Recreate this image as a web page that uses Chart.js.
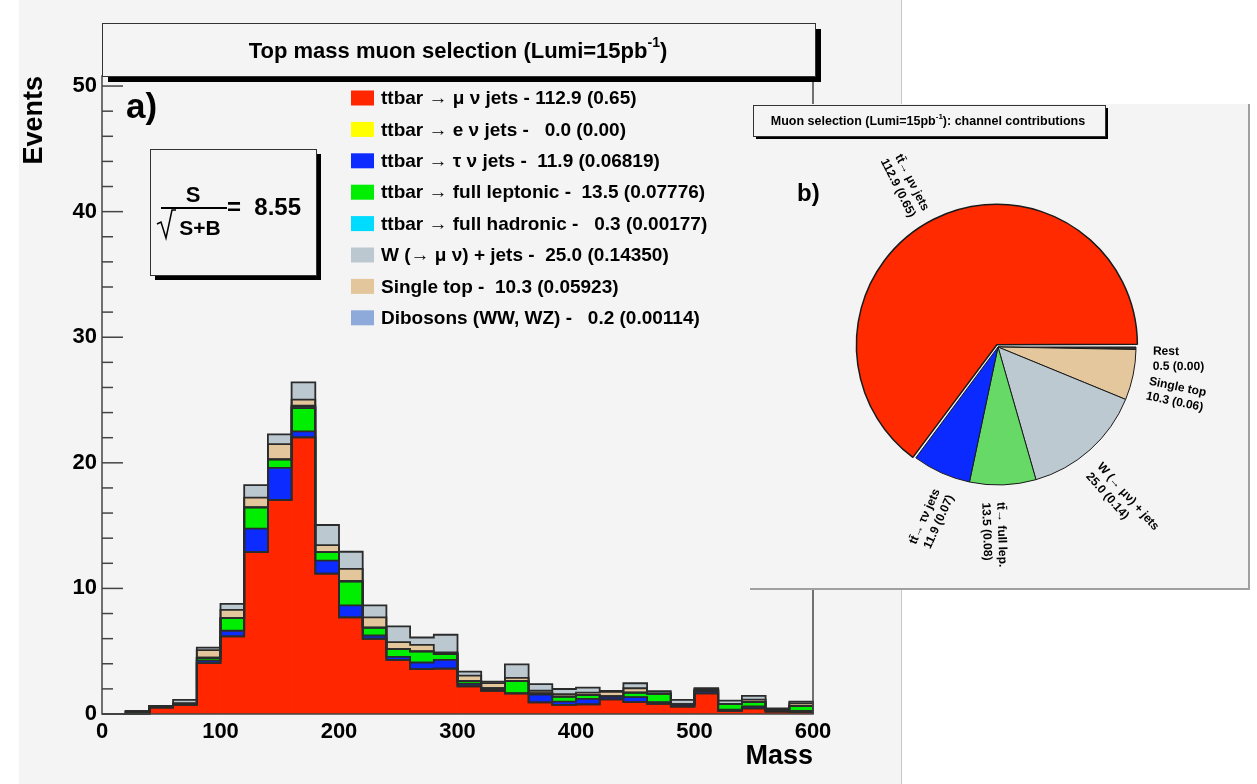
<!DOCTYPE html>
<html>
<head>
<meta charset="utf-8">
<script src="https://cdn.jsdelivr.net/npm/chart.js@4.4.0/dist/chart.umd.min.js"></script>
<style>
  html, body { margin: 0; padding: 0; background: #fff; }
  body { width: 1257px; height: 784px; position: relative; overflow: hidden; }
  #panel { position: absolute; left: 19px; top: 0; width: 882px; height: 784px; background: #f4f4f4; border-right: 1px solid #c8c8c8; }
  #hist { position: absolute; left: 0; top: 0; }
  #pieBox { position: absolute; left: 750px; top: 104px; width: 498px; height: 484px; background: #f4f4f4;
            border-right: 2px solid #a0a0a0; border-bottom: 2px solid #a0a0a0; }
  #pie { position: absolute; left: 0; top: 0; }
</style>
</head>
<body>
<div id="panel"></div>
<canvas id="hist" width="901" height="784"></canvas>
<div id="pieBox"><canvas id="pie" width="498" height="484"></canvas></div>
<script>
// bin centres of the mass histogram (20 wide, 0..600)
const massBins = [10, 30, 50, 70, 90, 110, 130, 150, 170, 190, 210, 230, 250, 270, 290,
                  310, 330, 350, 370, 390, 410, 430, 450, 470, 490, 510, 530, 550, 570, 590];

// stacked contributions, bottom to top
const muJets   = [0, 0, 0.5, 0.72, 4.05, 6.18, 12.89, 17.04, 22.02, 11.18, 7.69, 5.99, 4.31, 3.57, 3.62,
                  2.21, 1.84, 1.65, 0.93, 0.72, 0.77, 1.17, 0.95, 0.8, 0.58, 1.65, 0.25, 0.45, 0.2, 0.15];
const eJets    = [0, 0, 0, 0, 0, 0, 0, 0, 0, 0, 0, 0, 0, 0, 0, 0, 0, 0, 0, 0, 0, 0, 0, 0, 0, 0, 0, 0, 0, 0];
const tauJets  = [0, 0, 0.15, 0.1, 0.2, 0.45, 1.87, 2.56, 0.48, 1.04, 0.96, 0.26, 0.24, 0.53, 0.69,
                  0.2, 0.12, 0, 0.61, 0.27, 0.43, 0.24, 0.4, 0.15, 0.19, 0.19, 0.1, 0.15, 0.1, 0.1];
const fullLep  = [0, 0.2, 0, 0, 0.19, 1.0, 1.7, 0.67, 1.86, 0.67, 1.92, 0.62, 0.61, 0.88, 0.46,
                  0.2, 0, 0.96, 0.1, 0.4, 0.3, 0, 0.35, 0.67, 0, 0, 0.45, 0.35, 0, 0.4];
const fullHad  = [0, 0, 0, 0, 0.05, 0, 0, 0, 0.1, 0, 0, 0, 0, 0, 0,
                  0, 0.1, 0, 0, 0, 0, 0, 0, 0, 0, 0.05, 0, 0, 0, 0];
const dibosons = [0, 0, 0, 0, 0, 0, 0, 0, 0.09, 0, 0, 0, 0, 0, 0.05,
                  0, 0, 0, 0, 0, 0, 0, 0, 0, 0, 0.06, 0, 0, 0, 0];
const singleTop = [0, 0, 0, 0, 0.59, 0.66, 0.77, 1.22, 0.48, 0.56, 0.99, 0.82, 0.56, 0.53, 0.08,
                   0.45, 0.4, 0.27, 0.21, 0.2, 0.2, 0.35, 0.35, 0, 0, 0, 0, 0.2, 0, 0.2];
const wJets    = [0, 0, 0, 0.3, 0.2, 0.48, 1.0, 0.77, 1.38, 1.6, 1.36, 0.96, 1.25, 0.58, 1.41,
                  0.32, 0.12, 1.07, 0.53, 0.4, 0.4, 0.08, 0.4, 0.2, 0.35, 0.1, 0.27, 0.3, 0.15, 0.13];

const stackValues = [muJets, eJets, tauJets, fullLep, fullHad, dibosons, singleTop, wJets];
const stackColors = ['#ff2600', '#ffff00', '#0c2cff', '#00ee00', '#00dcff', '#8eaadb', '#e3c69b', '#bcc8d0'];
const stackLabels = ['ttbar \u2192 \u03bc \u03bd jets - 112.9 (0.65)',
                     'ttbar \u2192 e \u03bd jets -   0.0 (0.00)',
                     'ttbar \u2192 \u03c4 \u03bd jets -  11.9 (0.06819)',
                     'ttbar \u2192 full leptonic -  13.5 (0.07776)',
                     'ttbar \u2192 full hadronic -   0.3 (0.00177)',
                     'Dibosons (WW, WZ) -   0.2 (0.00114)',
                     'Single top -  10.3 (0.05923)',
                     'W (\u2192 \u03bc \u03bd) + jets -  25.0 (0.14350)'];
const legendOrder = [0, 1, 2, 3, 4, 7, 6, 5];

const yTicks = [0, 10, 20, 30, 40, 50];
const xTicks = [0, 100, 200, 300, 400, 500, 600];

// pie: channel contributions
const pieLabels = [['Rest', '0.5 (0.00)'], ['Single top', '10.3 (0.06)'], ['W (\u2192 \u03bc\u03bd) + jets', '25.0 (0.14)'],
                   ['tt\u0304\u2192 full lep.', '13.5 (0.08)'], ['tt\u0304\u2192 \u03c4\u03bd jets', '11.9 (0.07)'],
                   ['tt\u0304\u2192 \u03bc\u03bd jets', '112.9 (0.65)']];
const pieValues = [0.5, 10.3, 25.0, 13.5, 11.9, 112.9];
const pieColors = ['#333333', '#e4c79c', '#bdc9d1', '#66d966', '#0a2aff', '#ff2a00'];

const FONT = '"Liberation Sans", Arial, Helvetica, sans-serif';
Chart.defaults.font.family = FONT;
Chart.defaults.color = '#000';

function drawSupText(ctx, parts, cx, cy, size) {
  const sup = Math.round(size * 0.62);
  let w = 0;
  parts.forEach(p => {
    ctx.font = 'bold ' + (p.sup ? sup : size) + 'px ' + FONT;
    w += ctx.measureText(p.t).width;
  });
  let x = cx - w / 2;
  ctx.textAlign = 'left';
  ctx.textBaseline = 'middle';
  parts.forEach(p => {
    ctx.font = 'bold ' + (p.sup ? sup : size) + 'px ' + FONT;
    ctx.fillText(p.t, x, p.sup ? cy - size * 0.38 : cy);
    x += ctx.measureText(p.t).width;
  });
}

function shadowBox(ctx, x, y, w, h, sh) {
  ctx.fillStyle = '#000';
  ctx.fillRect(x + sh, y + sh, w, h);
  ctx.fillStyle = '#f4f4f4';
  ctx.fillRect(x, y, w, h);
  ctx.strokeStyle = '#333';
  ctx.lineWidth = 1;
  ctx.strokeRect(x + 0.5, y + 0.5, w, h);
}

const histDecor = {
  id: 'histDecor',
  afterDatasetsDraw(chart) {
    const ctx = chart.ctx, a = chart.chartArea, yS = chart.scales.y;
    ctx.save();
    // step outline of every stacked layer
    ctx.strokeStyle = '#2b2b2b';
    ctx.lineWidth = 1.8;
    chart.data.datasets.forEach((ds, d) => {
      const bars = chart.getDatasetMeta(d).data;
      ctx.beginPath();
      bars.forEach((b, i) => {
        const p = b.getProps(['x', 'y', 'base', 'width'], true);
        const l = p.x - p.width / 2, r = p.x + p.width / 2;
        if (i === 0) ctx.moveTo(l, p.base);
        ctx.lineTo(l, p.y);
        ctx.lineTo(r, p.y);
        if (i === bars.length - 1) ctx.lineTo(r, p.base);
      });
      ctx.stroke();
    });
    // frame + inward ticks
    ctx.strokeStyle = '#444';
    ctx.lineWidth = 1.5;
    ctx.strokeRect(a.left, a.top, a.right - a.left, a.bottom - a.top);
    for (let v = 0; v <= 50; v += 2) {
      const y = yS.getPixelForValue(v);
      const len = v % 10 === 0 ? 21 : 11;
      ctx.beginPath();
      ctx.moveTo(a.left, y);
      ctx.lineTo(a.left + len, y);
      ctx.stroke();
    }
    ctx.restore();
  },
  afterDraw(chart) {
    const ctx = chart.ctx;
    ctx.save();
    // title box
    shadowBox(ctx, 102, 23, 713, 53, 6);
    ctx.fillStyle = '#000';
    drawSupText(ctx, [{t: 'Top mass muon selection (Lumi=15pb'}, {t: '-1', sup: true}, {t: ')'}], 458, 52, 22);

    // "a)"
    ctx.font = 'bold 35px ' + FONT;
    ctx.textAlign = 'left';
    ctx.textBaseline = 'alphabetic';
    ctx.fillText('a)', 126, 118);

    // significance box
    shadowBox(ctx, 150, 149, 166, 126, 5);
    ctx.fillStyle = '#000';
    ctx.textBaseline = 'middle';
    ctx.textAlign = 'center';
    ctx.font = 'bold 22px ' + FONT;
    ctx.fillText('S', 193, 196);
    ctx.fillRect(161, 207, 66, 2);
    ctx.font = 'bold 21px ' + FONT;
    ctx.fillText('S+B', 200, 229);
    ctx.lineWidth = 1.5;
    ctx.strokeStyle = '#000';
    ctx.beginPath();
    ctx.moveTo(157, 224); ctx.lineTo(161, 222); ctx.lineTo(166, 238); ctx.lineTo(172, 210); ctx.lineTo(176, 210);
    ctx.stroke();
    ctx.font = 'bold 24px ' + FONT;
    ctx.textAlign = 'left';
    ctx.fillText('=  8.55', 227, 208);

    // legend
    legendOrder.forEach((d, k) => {
      const ds = chart.data.datasets[d];
      const y = 98 + k * 31.4;
      ctx.fillStyle = ds.backgroundColor;
      ctx.fillRect(351, y - 7.5, 23, 15);
      ctx.fillStyle = '#000';
      ctx.font = 'bold 19px ' + FONT;
      ctx.textAlign = 'left';
      ctx.textBaseline = 'middle';
      ctx.fillText(ds.label, 381, y + 1);
    });
    ctx.restore();
  }
};

new Chart(document.getElementById('hist'), {
  type: 'bar',
  data: {
    datasets: stackValues.map((vals, d) => ({
      label: stackLabels[d],
      data: massBins.map((m, i) => ({x: m, y: vals[i]})),
      backgroundColor: stackColors[d],
      borderWidth: 0,
      barPercentage: 1,
      categoryPercentage: 1
    }))
  },
  options: {
    responsive: false,
    animation: false,
    layout: {padding: {top: 76, right: 88, left: 0, bottom: 0}},
    plugins: {legend: {display: false}, tooltip: {enabled: false}},
    scales: {
      x: {
        type: 'linear', stacked: true, offset: false, min: 0, max: 600,
        afterFit(s) { s.height = 70; },
        afterBuildTicks(s) { s.ticks = xTicks.map(v => ({value: v})); },
        grid: {display: false, drawTicks: false}, border: {display: false},
        ticks: {padding: 5, font: {size: 22, weight: 'bold'}, color: '#000', maxRotation: 0},
        title: {display: true, text: 'Mass', align: 'end', font: {size: 27, weight: 'bold'}, color: '#000',
                padding: {top: 0, bottom: 11}}
      },
      y: {
        stacked: true, min: 0, max: 50.8,
        afterFit(s) { s.width = 102; },
        afterBuildTicks(s) { s.ticks = yTicks.map(v => ({value: v})); },
        grid: {display: false, drawTicks: false}, border: {display: false},
        ticks: {padding: 5, font: {size: 22, weight: 'bold'}, color: '#000'},
        title: {display: true, text: 'Events', align: 'end', font: {size: 27, weight: 'bold'}, color: '#000',
                padding: {top: 18, bottom: 0}}
      }
    }
  },
  plugins: [histDecor]
});

const pieDecor = {
  id: 'pieDecor',
  afterDraw(chart) {
    const ctx = chart.ctx;
    ctx.save();
    shadowBox(ctx, 3, 1, 352, 31, 3);
    ctx.fillStyle = '#000';
    drawSupText(ctx, [{t: 'Muon selection (Lumi=15pb'}, {t: '-1', sup: true}, {t: '): channel contributions'}], 178, 18, 12.5);

    ctx.font = 'bold 24px ' + FONT;
    ctx.textAlign = 'left';
    ctx.textBaseline = 'alphabetic';
    ctx.fillText('b)', 47, 97);

    const arcs = chart.getDatasetMeta(0).data;
    arcs.forEach((arc, i) => {
      const p = arc.getProps(['x', 'y', 'startAngle', 'endAngle', 'outerRadius'], true);
      const mid = (p.startAngle + p.endAngle) / 2;
      const rr = p.outerRadius + 17;
      const ax = p.x + rr * Math.cos(mid), ay = p.y + rr * Math.sin(mid);
      const right = Math.cos(mid) >= 0;
      ctx.save();
      ctx.translate(ax, ay);
      ctx.rotate(right ? mid : mid - Math.PI);
      ctx.textAlign = right ? 'left' : 'right';
      ctx.textBaseline = 'middle';
      ctx.font = 'bold 12px ' + FONT;
      ctx.fillStyle = '#000';
      ctx.fillText(pieLabels[i][0], 0, 3);
      ctx.fillText(pieLabels[i][1], 0, 18);
      ctx.restore();
    });
    ctx.restore();
  }
};

new Chart(document.getElementById('pie'), {
  type: 'pie',
  data: {
    labels: pieLabels.map(l => l[0]),
    datasets: [{
      data: pieValues,
      backgroundColor: pieColors,
      borderColor: '#1a1a1a',
      borderWidth: [1, 1, 1, 1, 1, 1.5],
      offset: [0, 0, 0, 0, 0, 10]
    }]
  },
  options: {
    responsive: false,
    animation: false,
    rotation: 90,
    radius: 138,
    layout: {padding: {top: 2, bottom: 0, left: 0, right: 2}},
    plugins: {legend: {display: false}, tooltip: {enabled: false}}
  },
  plugins: [pieDecor]
});
</script>
</body>
</html>
